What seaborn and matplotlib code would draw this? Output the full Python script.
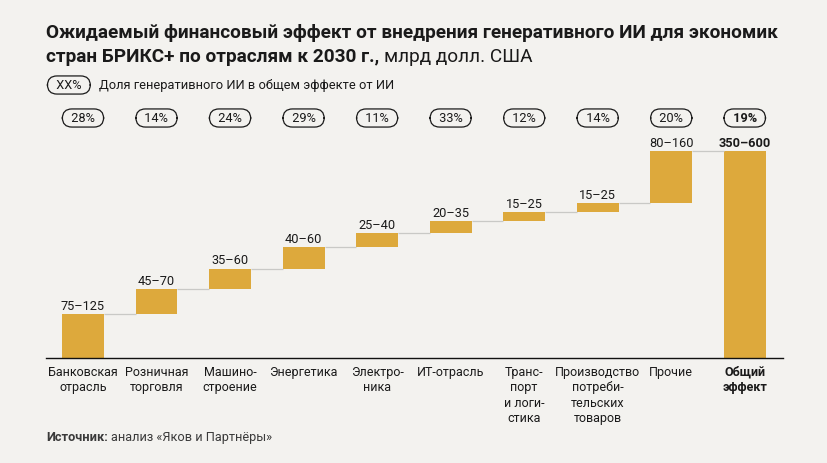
import matplotlib
matplotlib.use("Agg")
import matplotlib.pyplot as plt
import seaborn as sns
import pandas as pd
import numpy as np

# ---- data ----
categories = ["Банковская\nотрасль", "Розничная\nторговля", "Машино-\nстроение",
              "Энергетика", "Электро-\nника", "ИТ-отрасль", "Транс-\nпорт\nи логи-\nстика",
              "Производство\nпотреби-\nтельских\nтоваров", "Прочие", "Общий\nэффект"]
range_labels = ["75–125", "45–70", "35–60", "40–60", "25–40", "20–35", "15–25",
                "15–25", "80–160", "350–600"]
low_values = [75, 45, 35, 40, 25, 20, 15, 15, 80, 350]
high_values = [125, 70, 60, 60, 40, 35, 25, 25, 160, 600]
genai_share = ["28%", "14%", "24%", "29%", "11%", "33%", "12%", "14%", "20%", "19%"]

mid = [(a + b) / 2 for a, b in zip(low_values, high_values)]
steps = mid[:-1]
bottoms = list(np.cumsum([0] + steps[:-1])) + [0]
heights = steps + [sum(steps)]
tops = [b + h for b, h in zip(bottoms, heights)]

df = pd.DataFrame({"cat": categories, "height": heights, "bottom": bottoms})

BG = "#F3F2EF"
BAR = "#DDA93C"
FONT = "Roboto"

sns.set_theme(style="white")
plt.rcParams["font.family"] = [FONT, "DejaVu Sans"]

W, H = 828, 464
fig = plt.figure(figsize=(W / 100, H / 100), dpi=100, facecolor=BG)
ax_top_px = 140
ax = fig.add_axes([46 / W, 1 - 359 / H, (783 - 46) / W, (359 - ax_top_px) / H])
ax.set_facecolor(BG)

bw = 0.57
sns.barplot(data=df, x="cat", y="height", bottom=df["bottom"].values, color=BAR,
            saturation=1, width=bw, ax=ax, linewidth=0)

ymax = tops[-1] * (359 - ax_top_px) / (359 - 152)
ax.set_ylim(0, ymax)
ax.set_xlim(-0.503, 9.52)

# connectors
for i in range(len(categories) - 1):
    ax.hlines(tops[i], i + bw / 2, i + 1 - bw / 2, color="#C9C9C6", lw=0.9, zorder=1)

# value labels
for i, lab in enumerate(range_labels):
    ax.text(i, tops[i] + 5, lab, ha="center", va="bottom", fontsize=9.2,
            color="#1a1a1a", fontweight="bold" if i == len(categories) - 1 else "normal")

pill_box = dict(boxstyle="round,pad=0.2,rounding_size=0.75", fc="none",
                ec="#1a1a1a", lw=0.9)

# pills
pill_y = 1 + (ax_top_px - 119) / (359 - ax_top_px)
for i, s in enumerate(genai_share):
    ax.text(i, pill_y, "  " + s + "  ", ha="center", va="center", fontsize=9.2,
            color="#1a1a1a", transform=ax.get_xaxis_transform(),
            fontweight="bold" if i == len(categories) - 1 else "normal",
            bbox=pill_box)

# axes styling
for sp in ["top", "right", "left"]:
    ax.spines[sp].set_visible(False)
ax.spines["bottom"].set_color("#111111")
ax.spines["bottom"].set_linewidth(1.0)
ax.set_yticks([])
ax.set_xlabel("")
ax.set_ylabel("")
ax.tick_params(axis="x", length=0, pad=5)
ax.set_xticks(range(len(categories)))
ax.set_xticklabels(categories, fontsize=9.0, color="#1a1a1a", linespacing=1.25,
                   va="top", ha="center")
ax.get_xticklabels()[-1].set_fontweight("bold")

# title
TS = 13.7
fig.text(46 / W, 1 - 33 / H, "Ожидаемый финансовый эффект от внедрения генеративного ИИ для экономик",
         fontsize=TS, fontweight="bold", color="#1a1a1a", va="center", ha="left")
t2 = fig.text(46 / W, 1 - 57 / H, "стран БРИКС+ по отраслям к 2030 г.,",
              fontsize=TS, fontweight="bold", color="#1a1a1a", va="center", ha="left")
r = fig.canvas.get_renderer()
bb = t2.get_window_extent(renderer=r)
fig.text((bb.x1 + 5) / W, 1 - 57 / H, "млрд долл. США", fontsize=TS,
         color="#1a1a1a", va="center", ha="left")

# legend
fig.text(50 / W, 1 - 86 / H, "  XX%  ", fontsize=9.2, color="#1a1a1a", va="center", ha="left",
         bbox=pill_box)
fig.text(99 / W, 1 - 86 / H, "Доля генеративного ИИ в общем эффекте от ИИ", fontsize=9.3,
         color="#1a1a1a", va="center", ha="left")

# source
s1 = fig.text(46 / W, 1 - 438 / H, "Источник:", fontsize=9.2, fontweight="bold",
              color="#3a3a3a", va="center", ha="left")
bb = s1.get_window_extent(renderer=r)
fig.text((bb.x1 + 3) / W, 1 - 438 / H, "анализ «Яков и Партнёры»", fontsize=9.2,
         color="#3a3a3a", va="center", ha="left")

fig.savefig("out.png", dpi=100, facecolor=BG)
